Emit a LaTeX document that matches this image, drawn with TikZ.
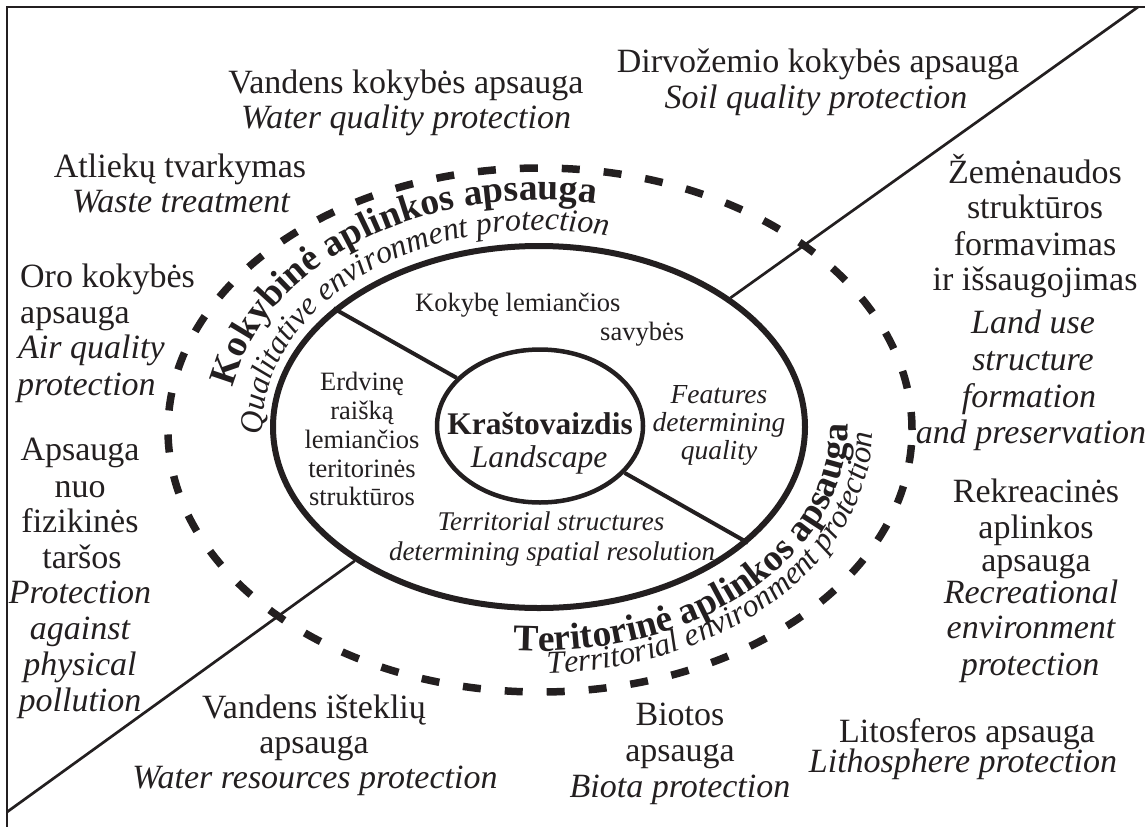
\documentclass[tikz,border=0pt]{standalone}
\usepackage{fontspec}
\setmainfont{Liberation Serif}
\usetikzlibrary{shapes.geometric,decorations.text}
\definecolor{ink}{RGB}{35,31,32}
\newcommand\cvbold{\fontsize{37.5}{37.5}\selectfont\bfseries\color{ink}}
\newcommand\cvital{\fontsize{32}{32}\selectfont\itshape\color{ink}}
\begin{document}
\begin{tikzpicture}[x=1pt,y=-1pt,
  lt/.style={inner sep=0pt, anchor=base, text=ink, font=\fontsize{34}{36}\selectfont},
  lti/.style={inner sep=0pt, anchor=base, text=ink, font=\fontsize{34}{36}\selectfont\itshape},
  mt/.style={inner sep=0pt, anchor=base, text=ink, font=\fontsize{26.5}{28}\selectfont},
  mti/.style={inner sep=0pt, anchor=base, text=ink, font=\fontsize{27}{28}\selectfont\itshape},
  frame/.style={draw=ink, line width=2pt},
  diag/.style={draw=ink, line width=2.7pt},
  spoke/.style={draw=ink, line width=4pt},
  ring/.style={ellipse, draw=ink, inner sep=0pt}
]
\useasboundingbox (0,0) rectangle (1145,827);

% frame
\coordinate (ftr) at (1145,7);
\coordinate (ftl) at (7,7);
\coordinate (fbl) at (7,827);
\draw[frame] (ftr) -- (ftl) -- (fbl);

% ellipses
\node[ring, line width=7.5pt, dash pattern=on 18pt off 24pt, minimum width=744pt, minimum height=524pt] (outer) at (540,430) {};
\node[ring, line width=6pt, minimum width=532pt, minimum height=362pt] (mid) at (539,427) {};
\node[ring, line width=4.5pt, minimum width=206pt, minimum height=153pt] (inner) at (540,426) {};

% diagonal
\coordinate (dbl) at (7,812);
\coordinate (dtr) at (1138,7);
\draw[diag] (dbl) -- (mid.216.8);
\draw[diag] (mid.34) -- (dtr);

% spokes
\draw[spoke] (mid.150.7) -- (inner.150.7);
\draw[spoke] (mid.-29.3) -- (inner.-29.3);

% curved texts
\path[decorate, decoration={text along path, text={|\cvbold|Kokybinė aplinkos apsauga}}]
  plot[domain=190.1:320, samples=120, variable=\t] ({540+312*cos(\t)}, {427+227*sin(\t)});
\path[decorate, decoration={text along path, text={|\cvital|Qualitative environment protection}}]
  plot[domain=177.7:320, samples=120, variable=\t] ({540+277*cos(\t)}, {427+197*sin(\t)});
\path[decorate, decoration={text along path, text={|\cvbold|Teritorinė aplinkos apsauga}}]
  plot[domain=-95:40, samples=120, variable=\t] ({540+308*cos(\t)}, {427-224*sin(\t)});
\path[decorate, decoration={text along path, text={|\cvital|Territorial environment protection}}]
  plot[domain=-88.8:40, samples=120, variable=\t] ({540+333*cos(\t)}, {427-246*sin(\t)});

% centre
\node[inner sep=0pt, anchor=base, text=ink, font=\fontsize{31.5}{33}\selectfont\bfseries] (land1) at (540,434) {Kraštovaizdis};
\node[inner sep=0pt, anchor=base, text=ink, font=\fontsize{31.5}{33}\selectfont\itshape] (land2) at (539,467) {Landscape};

% inner sector texts
\node[mt, anchor=base west] (k1) at (415,311) {Kokybę lemiančios};
\node[mt, anchor=base west] (k2) at (600,340) {savybės};
\node[mt] (e1) at (362,390) {Erdvinę};
\node[mt] (e2) at (362,419) {raišką};
\node[mt] (e3) at (362,448) {lemiančios};
\node[mt] (e4) at (362,477) {teritorinės};
\node[mt] (e5) at (362,505) {struktūros};
\node[mti, font=\fontsize{27.5}{28}\selectfont\itshape] (f1) at (719,403) {Features};
\node[mti, font=\fontsize{27.5}{28}\selectfont\itshape] (f2) at (719,431) {determining};
\node[mti, font=\fontsize{27.5}{28}\selectfont\itshape] (f3) at (719,459) {quality};
\node[mti] (t1) at (551,530) {Territorial structures};
\node[mti] (t2) at (552,560) {determining spatial resolution};

% outer labels
\node[lt] (a1) at (406,93) {Vandens kokybės apsauga};
\node[lti] (a2) at (406,128) {Water quality protection};
\node[lt] (b1) at (818,72) {Dirvožemio kokybės apsauga};
\node[lti] (b2) at (816,108) {Soil quality protection};
\node[lt] (c1) at (180,177) {Atliekų tvarkymas};
\node[lti] (c2) at (181,212) {Waste treatment};
\node[lt, anchor=base west] (d1) at (20,287) {Oro kokybės};
\node[lt, anchor=base west] (d2) at (20,323) {apsauga};
\node[lti, anchor=base west] (d3) at (18,358) {Air quality};
\node[lti, anchor=base west] (d4) at (17,395) {protection};
\node[lt] (g1) at (80,460) {Apsauga};
\node[lt] (g2) at (80,497) {nuo};
\node[lt] (g3) at (80,532) {fizikinės};
\node[lt] (g4) at (82,568) {taršos};
\node[lti] (g5) at (80,603) {Protection};
\node[lti] (g6) at (80,639) {against};
\node[lti] (g7) at (80,675) {physical};
\node[lti] (g8) at (80,711) {pollution};
\node[lt] (h1) at (314,718) {Vandens išteklių};
\node[lt] (h2) at (314,753) {apsauga};
\node[lti] (h3) at (315,788) {Water resources protection};
\node[lt] (i1) at (680,725) {Biotos};
\node[lt] (i2) at (680,761) {apsauga};
\node[lti] (i3) at (680,797) {Biota protection};
\node[lt] (j1) at (967,742) {Litosferos apsauga};
\node[lti] (j2) at (963,772) {Lithosphere protection};
\node[lt] (r1) at (1036,502) {Rekreacinės};
\node[lt] (r2) at (1036,538) {aplinkos};
\node[lt] (r3) at (1036,571) {apsauga};
\node[lti] (r4) at (1031,603) {Recreational};
\node[lti] (r5) at (1031,638) {environment};
\node[lti] (r6) at (1030,675) {protection};
\node[lt] (z1) at (1035,183) {Žemėnaudos};
\node[lt] (z2) at (1035,218) {struktūros};
\node[lt] (z3) at (1035,255) {formavimas};
\node[lt] (z4) at (1035,290) {ir išsaugojimas};
\node[lti] (z5) at (1033,333) {Land use};
\node[lti] (z6) at (1033,370) {structure};
\node[lti] (z7) at (1029,407) {formation};
\node[lti] (z8) at (1031,443) {and preservation};
\end{tikzpicture}
\end{document}
